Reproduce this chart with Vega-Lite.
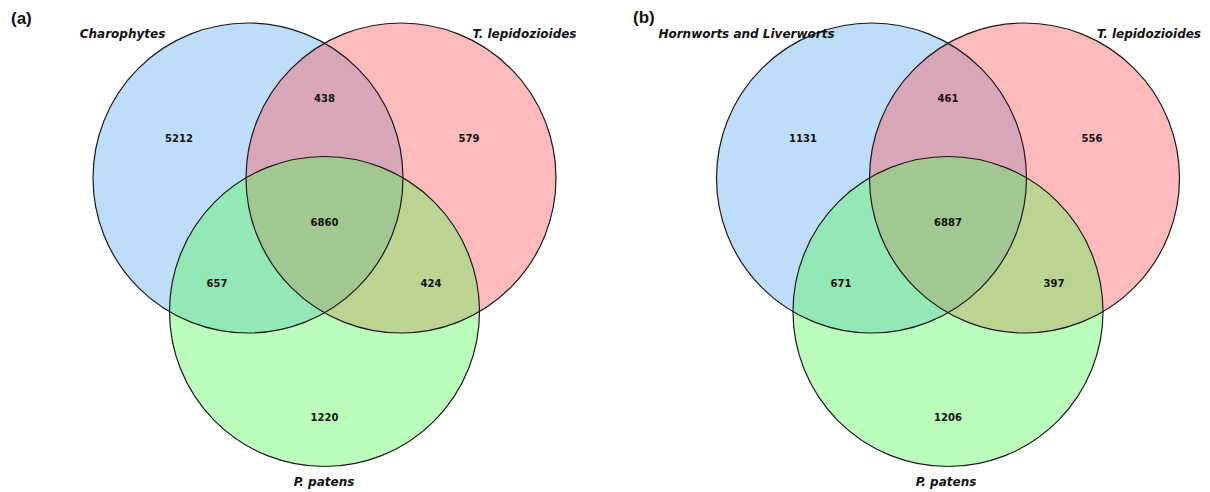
{
  "$schema": "https://vega.github.io/schema/vega-lite/v6.json",
  "width": 1210,
  "height": 492,
  "autosize": {"type": "fit", "contains": "padding"},
  "padding": 0,
  "background": "white",
  "config": {"view": {"stroke": null}},
  "datasets": {
    "circles": [
      {"panel": "a", "set": "Charophytes", "x": 248, "y": 178},
      {"panel": "a", "set": "T. lepidozioides", "x": 401, "y": 178},
      {"panel": "a", "set": "P. patens", "x": 324.5, "y": 311.5},
      {"panel": "b", "set": "Hornworts and Liverworts", "x": 871.5, "y": 178},
      {"panel": "b", "set": "T. lepidozioides", "x": 1024.5, "y": 178},
      {"panel": "b", "set": "P. patens", "x": 948, "y": 311.5}
    ],
    "counts": [
      {"panel": "a", "region": "Charophytes only", "count": 5212, "x": 179, "y": 139},
      {"panel": "a", "region": "Charophytes & T. lepidozioides", "count": 438, "x": 324.5, "y": 99},
      {"panel": "a", "region": "T. lepidozioides only", "count": 579, "x": 469, "y": 139},
      {"panel": "a", "region": "all three", "count": 6860, "x": 324.5, "y": 223},
      {"panel": "a", "region": "Charophytes & P. patens", "count": 657, "x": 217, "y": 284},
      {"panel": "a", "region": "T. lepidozioides & P. patens", "count": 424, "x": 431, "y": 284},
      {"panel": "a", "region": "P. patens only", "count": 1220, "x": 324.5, "y": 418},
      {"panel": "b", "region": "Hornworts and Liverworts only", "count": 1131, "x": 803, "y": 139},
      {"panel": "b", "region": "Hornworts and Liverworts & T. lepidozioides", "count": 461, "x": 948, "y": 99},
      {"panel": "b", "region": "T. lepidozioides only", "count": 556, "x": 1092, "y": 139},
      {"panel": "b", "region": "all three", "count": 6887, "x": 948, "y": 223},
      {"panel": "b", "region": "Hornworts and Liverworts & P. patens", "count": 671, "x": 841, "y": 284},
      {"panel": "b", "region": "T. lepidozioides & P. patens", "count": 397, "x": 1054, "y": 284},
      {"panel": "b", "region": "P. patens only", "count": 1206, "x": 948, "y": 418}
    ],
    "labels": [
      {"panel": "a", "label": "Charophytes", "x": 122.5, "y": 34},
      {"panel": "a", "label": "T. lepidozioides", "x": 524.5, "y": 34},
      {"panel": "a", "label": "P. patens", "x": 324, "y": 482},
      {"panel": "b", "label": "Hornworts and Liverworts", "x": 746.5, "y": 34},
      {"panel": "b", "label": "T. lepidozioides", "x": 1149, "y": 34},
      {"panel": "b", "label": "P. patens", "x": 946, "y": 482}
    ],
    "tags": [
      {"tag": "(a)", "x": 11, "y": 19},
      {"tag": "(b)", "x": 633, "y": 18}
    ]
  },
  "layer": [
    {
      "data": {"name": "circles"},
      "mark": {"type": "point", "shape": "circle", "filled": true, "fillOpacity": 0.4, "opacity": 1, "strokeWidth": 0},
      "encoding": {
        "x": {"field": "x", "type": "quantitative", "scale": {"domain": [0, 1210], "nice": false, "zero": false}, "axis": null},
        "y": {"field": "y", "type": "quantitative", "scale": {"domain": [0, 492], "nice": false, "zero": false, "reverse": true}, "axis": null},
        "size": {"value": 96100},
        "color": {
          "field": "set", "type": "nominal", "legend": null,
          "scale": {"domain": ["Charophytes", "Hornworts and Liverworts", "T. lepidozioides", "P. patens"], "range": ["#5caaf2", "#5caaf2", "#ff5555", "#55fa55"]}
        }
      }
    },
    {
      "data": {"name": "circles"},
      "mark": {"type": "point", "shape": "circle", "filled": false, "stroke": "#1a1a1a", "strokeWidth": 1.2, "opacity": 1},
      "encoding": {
        "x": {"field": "x", "type": "quantitative", "axis": null},
        "y": {"field": "y", "type": "quantitative", "axis": null},
        "size": {"value": 96100}
      }
    },
    {
      "data": {"name": "counts"},
      "mark": {"type": "text", "font": "DejaVu Sans", "fontWeight": "bold", "fontSize": 10, "color": "#111111", "align": "center", "baseline": "middle"},
      "encoding": {
        "x": {"field": "x", "type": "quantitative", "axis": null},
        "y": {"field": "y", "type": "quantitative", "axis": null},
        "text": {"field": "count", "type": "quantitative", "format": "d"}
      }
    },
    {
      "data": {"name": "labels"},
      "mark": {"type": "text", "font": "DejaVu Sans", "fontWeight": "bold", "fontStyle": "italic", "fontSize": 12, "color": "#111111", "align": "center", "baseline": "middle"},
      "encoding": {
        "x": {"field": "x", "type": "quantitative", "axis": null},
        "y": {"field": "y", "type": "quantitative", "axis": null},
        "text": {"field": "label", "type": "nominal"}
      }
    },
    {
      "data": {"name": "tags"},
      "mark": {"type": "text", "font": "Liberation Sans", "fontWeight": "bold", "fontSize": 17, "color": "#111111", "align": "left", "baseline": "middle"},
      "encoding": {
        "x": {"field": "x", "type": "quantitative", "axis": null},
        "y": {"field": "y", "type": "quantitative", "axis": null},
        "text": {"field": "tag", "type": "nominal"}
      }
    }
  ]
}
